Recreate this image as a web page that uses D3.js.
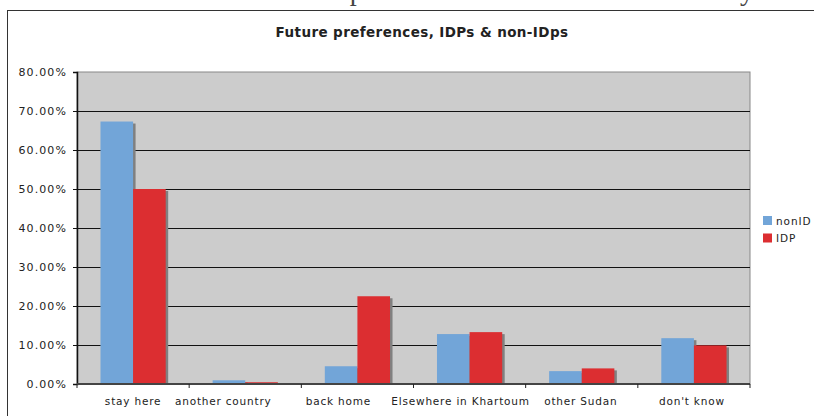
<!DOCTYPE html>
<html>
<head>
<meta charset="utf-8">
<script src="https://cdn.jsdelivr.net/npm/d3@7"></script>
<style>
  body { margin: 0; background: #fff; }
  text { font-family: "DejaVu Sans", Verdana, sans-serif; fill: #222; }
  .title { font-weight: bold; font-size: 13.5px; letter-spacing: 0.4px; }
  .tick text { font-size: 11px; letter-spacing: 1.1px; }
  .legend text { font-size: 10.5px; letter-spacing: 0.9px; }
  .caption { font-family: "Liberation Serif", "Times New Roman", serif; font-size: 28px; fill: #444; }
</style>
</head>
<body>
<div class="svg-container"></div>
<script>
var width = 814;
var height = 416;

// data
var categories = ["stay here", "another country", "back home", "Elsewhere in Khartoum", "other Sudan", "don't know"];
var seriesNames = ["nonID", "IDP"];
var nonID = [0.673, 0.0095, 0.0455, 0.128, 0.033, 0.1175];
var IDP = [0.500, 0.0045, 0.225, 0.133, 0.040, 0.099];
var yTicks = [0, 0.1, 0.2, 0.3, 0.4, 0.5, 0.6, 0.7, 0.8];

var colors = { "nonID": "#72A5D8", "IDP": "#DC2E31" };

var plot = { "top": 72, "right": 750, "bottom": 384, "left": 77 };

// Excel nudged some category labels left
var labelNudge = [0, -22, -19, -9, -1, -2];

var svg = d3.select(".svg-container")
            .append("svg")
            .attr("width", width)
            .attr("height", height);

// cut-off caption line from the page above the chart
svg.append("text")
   .attr("class", "caption")
   .attr("x", 6)
   .attr("y", 0)
   .text("Chart 3.3: IDPs and non-IDPs preferences about the future locality");

// outer chart frame (runs off the right and bottom)
svg.append("rect")
   .attr("x", 7.5)
   .attr("y", 10.5)
   .attr("width", 830)
   .attr("height", 430)
   .attr("fill", "#fff")
   .attr("stroke", "#333")
   .attr("stroke-width", 1);

var scaleX = d3.scaleBand()
               .domain(categories)
               .range([plot.left, plot.right]);

var scaleY = d3.scaleLinear()
               .domain([0, 0.8])
               .range([plot.bottom, plot.top]);

var inner = d3.scaleBand()
              .domain(seriesNames)
              .range([0, scaleX.bandwidth()])
              .paddingInner(0)
              .paddingOuter(0.72);

// plot background
svg.append("rect")
   .attr("x", plot.left)
   .attr("y", plot.top)
   .attr("width", plot.right - plot.left)
   .attr("height", plot.bottom - plot.top)
   .attr("fill", "#CCCCCC")
   .attr("stroke", "#888")
   .attr("stroke-width", 1);

// gridlines
svg.append("g")
   .selectAll("line")
   .data(yTicks.filter(function(d) { return d > 0 && d < 0.8; }))
   .enter()
   .append("line")
   .attr("x1", plot.left)
   .attr("x2", plot.right)
   .attr("y1", function(d) { return Math.round(scaleY(d)) + 0.5; })
   .attr("y2", function(d) { return Math.round(scaleY(d)) + 0.5; })
   .attr("stroke", "#111")
   .attr("stroke-width", 1.2);

var rows = categories.map(function(c, i) {
    return { cat: c, values: [{ key: "nonID", v: nonID[i] }, { key: "IDP", v: IDP[i] }] };
});

var groups = svg.append("g")
                .selectAll("g")
                .data(rows)
                .enter()
                .append("g")
                .attr("transform", function(d) { return "translate(" + scaleX(d.cat) + ",0)"; });

// drop shadows first
groups.selectAll("rect.shadow")
      .data(function(d) { return d.values; })
      .enter()
      .append("rect")
      .attr("class", "shadow")
      .attr("x", function(d) { return inner(d.key) + 2.5; })
      .attr("y", function(d) { return scaleY(d.v) + 2; })
      .attr("width", inner.bandwidth())
      .attr("height", function(d) { return Math.max(0, plot.bottom - scaleY(d.v) - 2); })
      .attr("fill", "#808080");

groups.selectAll("rect.bar")
      .data(function(d) { return d.values; })
      .enter()
      .append("rect")
      .attr("class", "bar")
      .attr("x", function(d) { return inner(d.key); })
      .attr("y", function(d) { return scaleY(d.v); })
      .attr("width", inner.bandwidth())
      .attr("height", function(d) { return plot.bottom - scaleY(d.v); })
      .attr("fill", function(d) { return colors[d.key]; });

// y axis
var yAxis = svg.append("g")
               .attr("transform", "translate(" + plot.left + ",0)")
               .call(d3.axisLeft(scaleY)
                       .tickValues(yTicks)
                       .tickFormat(d3.format(".2%"))
                       .tickSize(4)
                       .tickPadding(6));
yAxis.select(".domain").attr("stroke", "#111").attr("stroke-width", 1.5);
yAxis.selectAll(".tick line").attr("stroke", "#111");

// x axis with ticks on band edges
var xAxis = svg.append("g")
               .attr("transform", "translate(0," + plot.bottom + ")");
xAxis.append("line")
     .attr("x1", plot.left)
     .attr("x2", plot.right)
     .attr("stroke", "#444")
     .attr("stroke-width", 2);
xAxis.selectAll("line.edge")
     .data(categories.concat(["end"]))
     .enter()
     .append("line")
     .attr("class", "edge")
     .attr("x1", function(d, i) { return plot.left + i * scaleX.step(); })
     .attr("x2", function(d, i) { return plot.left + i * scaleX.step(); })
     .attr("y1", 0)
     .attr("y2", 4)
     .attr("stroke", "#222");
xAxis.selectAll("text")
     .data(categories)
     .enter()
     .append("text")
     .attr("x", function(d, i) { return scaleX(d) + scaleX.bandwidth() / 2 + labelNudge[i]; })
     .attr("y", 21)
     .attr("text-anchor", "middle")
     .style("font-size", "10.5px")
     .style("letter-spacing", "0.8px")
     .text(function(d) { return d; });

// title
svg.append("text")
   .attr("class", "title")
   .attr("x", 422)
   .attr("y", 37)
   .attr("text-anchor", "middle")
   .text("Future preferences, IDPs & non-IDps");

// legend
var legend = svg.append("g")
                .attr("class", "legend")
                .attr("transform", "translate(763,216)");
var item = legend.selectAll("g")
                 .data(seriesNames)
                 .enter()
                 .append("g")
                 .attr("transform", function(d, i) { return "translate(0," + (i * 17.5) + ")"; });
item.append("rect")
    .attr("width", 9)
    .attr("height", 9)
    .attr("fill", function(d) { return colors[d]; });
item.append("text")
    .attr("x", 13)
    .attr("y", 8.5)
    .text(function(d) { return d; });
</script>
</body>
</html>
